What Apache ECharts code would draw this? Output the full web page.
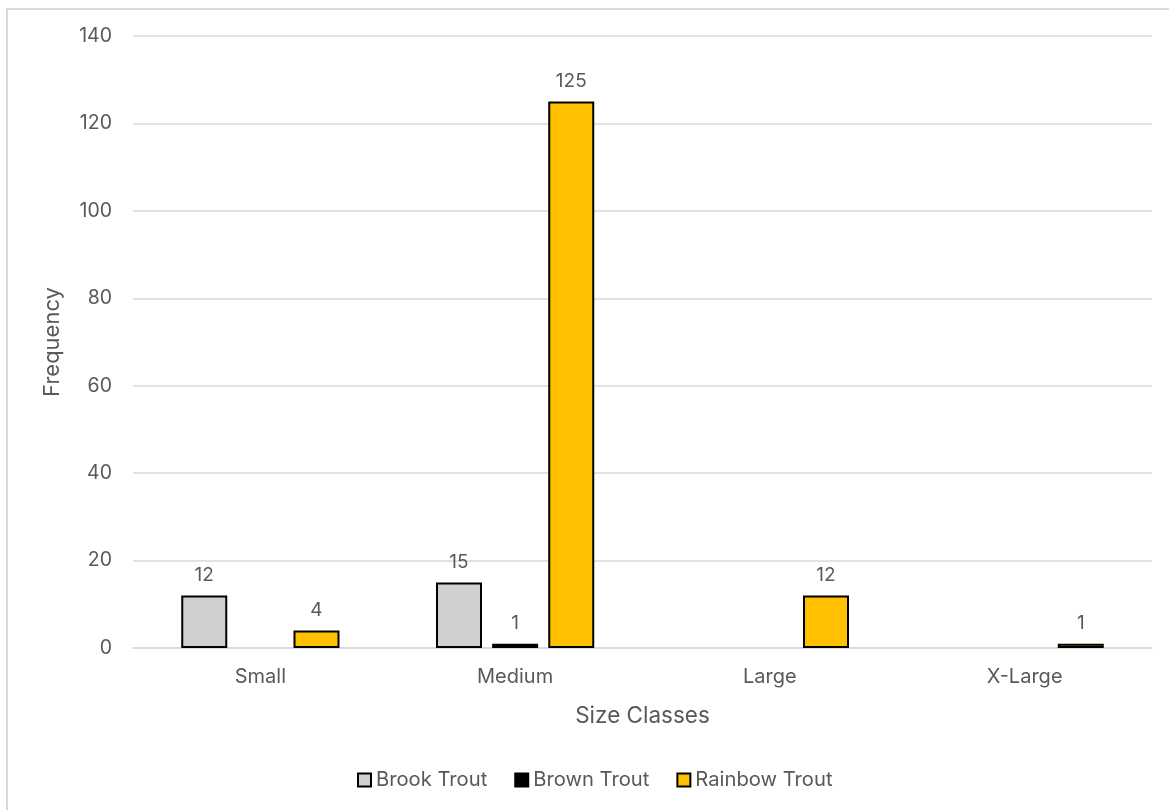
<!DOCTYPE html>
<html>
<head>
<meta charset="utf-8">
<style>
  html, body { margin: 0; padding: 0; background: #ffffff; }
  #chart { width: 1169px; height: 810px; }
</style>
<script src="https://cdn.jsdelivr.net/npm/echarts@6/dist/echarts.min.js"></script>
</head>
<body>
<div id="chart"></div>
<script>
// Trout catch by size class
const sizeClasses = ['Small', 'Medium', 'Large', 'X-Large'];
const brookTrout = [12, 15, null, null];
const brownTrout = [null, 1, null, null];
const rainbowTrout = [4, 125, 12, 1];
const yTicks = { min: 0, max: 140, interval: 20 };

const textColor = '#595959';
const fontFamily = 'Inter, "Open Sans", "Noto Sans", sans-serif';

function barSeries(name, data, fill) {
  return {
    name: name,
    type: 'bar',
    data: data,
    barWidth: 46,
    barGap: '22%',
    itemStyle: { color: fill, borderColor: '#000000', borderWidth: 2 },
    label: {
      show: true,
      position: 'top',
      distance: 11,
      color: textColor,
      fontSize: 19,
      fontFamily: fontFamily
    }
  };
}

const chart = echarts.init(document.getElementById('chart'));
chart.setOption({
  animation: false,
  backgroundColor: '#ffffff',
  graphic: [{
    type: 'rect',
    shape: { x: 7, y: 9, width: 1180, height: 820 },
    style: { fill: 'none', stroke: '#d9d9d9', lineWidth: 2 },
    silent: true
  }],
  grid: { left: 133, right: 17, top: 36, bottom: 162 },
  legend: {
    bottom: 15,
    left: 352,
    itemWidth: 13,
    itemHeight: 13,
    itemGap: 27,
    icon: 'rect',
    textStyle: { color: textColor, fontSize: 20.2, fontFamily: fontFamily },
    data: ['Brook Trout', 'Brown Trout', 'Rainbow Trout']
  },
  xAxis: {
    type: 'category',
    data: sizeClasses,
    name: 'Size Classes',
    nameLocation: 'middle',
    nameGap: 57,
    nameTextStyle: { color: textColor, fontSize: 22.5, fontFamily: fontFamily },
    axisLine: { lineStyle: { color: '#d9d9d9', width: 1.5 } },
    axisTick: { show: false },
    axisLabel: { color: textColor, fontSize: 20, fontFamily: fontFamily, margin: 19 }
  },
  yAxis: {
    type: 'value',
    min: yTicks.min,
    max: yTicks.max,
    interval: yTicks.interval,
    name: 'Frequency',
    nameLocation: 'middle',
    nameGap: 70,
    nameRotate: 90,
    nameTextStyle: { color: textColor, fontSize: 22, fontFamily: fontFamily },
    axisLine: { show: false },
    axisTick: { show: false },
    splitLine: { lineStyle: { color: '#d9d9d9', width: 1.5 } },
    axisLabel: { color: textColor, fontSize: 19.5, fontFamily: fontFamily, margin: 21 }
  },
  series: [
    barSeries('Brook Trout', brookTrout, '#d0d0d0'),
    barSeries('Brown Trout', brownTrout, '#000000'),
    barSeries('Rainbow Trout', rainbowTrout, '#ffc000')
  ]
});
</script>
</body>
</html>
